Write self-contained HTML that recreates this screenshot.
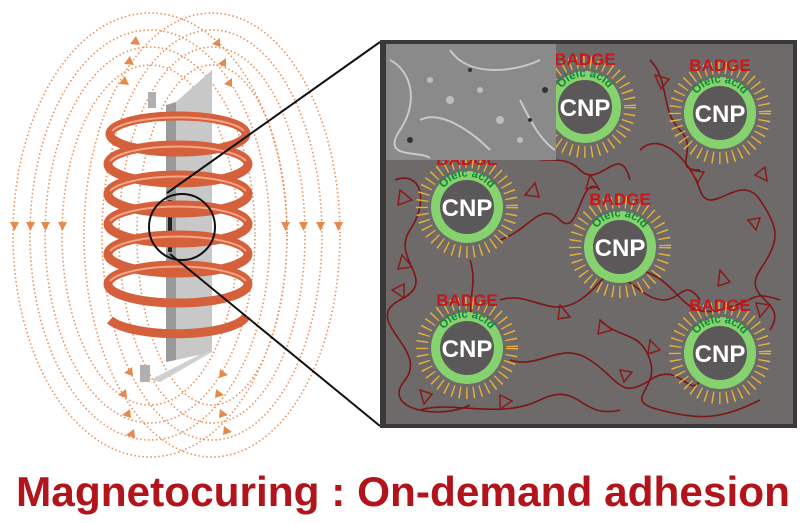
<!DOCTYPE html>
<html><head><meta charset="utf-8"><style>
html,body{margin:0;padding:0;background:#fff;}
svg{display:block;font-family:"Liberation Sans",Arial,sans-serif;}
</style></head><body>
<svg width="800" height="523" viewBox="0 0 800 523" xmlns="http://www.w3.org/2000/svg">
<defs>
<path id="arc" d="M -28.5 -2 A 28.5 28.5 0 0 1 28.5 -2" fill="none"/>
</defs>

<!-- field lines -->
<g fill="none" stroke="#e8925a" stroke-width="1.6" stroke-dasharray="1.5 2.5">
  <ellipse cx="150" cy="235" rx="137" ry="222"/>
  <ellipse cx="150" cy="235" rx="120" ry="205"/>
  <ellipse cx="150" cy="235" rx="105" ry="188"/>
  <ellipse cx="150" cy="235" rx="88" ry="170"/>
  <ellipse cx="212" cy="235" rx="128" ry="222"/>
  <ellipse cx="212" cy="235" rx="110" ry="205"/>
  <ellipse cx="212" cy="235" rx="93" ry="188"/>
  <ellipse cx="212" cy="235" rx="75" ry="170"/>
</g>
<g fill="#e58a4f">
  <path d="M10 222 h9 l-4.5 9z"/><path d="M26 222 h9 l-4.5 9z"/><path d="M41 222 h9 l-4.5 9z"/><path d="M58 222 h9 l-4.5 9z"/>
  <path d="M281 222 h9 l-4.5 9z"/><path d="M299 222 h9 l-4.5 9z"/><path d="M316 222 h9 l-4.5 9z"/><path d="M334 222 h9 l-4.5 9z"/>
  <path d="M130 44 l6 -8 l4 9z"/><path d="M124 64 l6 -8 l4 9z"/><path d="M119 84 l6 -8 l4 9z"/>
  <path d="M212 44 l8 -6 l0 9z"/><path d="M218 64 l8 -6 l0 9z"/><path d="M224 84 l8 -6 l0 9z"/>
  <path d="M118 395 l8 -6 l1 9z"/><path d="M122 415 l8 -6 l1 9z"/><path d="M126 435 l8 -6 l1 9z"/><path d="M124 373 l8 -6 l1 9z"/>
  <path d="M224 395 l-8 -6 l-1 9z"/><path d="M228 415 l-8 -6 l-1 9z"/><path d="M232 432 l-8 -6 l-1 9z"/><path d="M228 375 l-8 -6 l-1 9z"/>
</g>

<!-- iron bar -->
<path d="M166 105 L176 102 L176 360 L166 362 Z" fill="#9a9a9a"/>
<path d="M176 102 L212 70 L212 352 L176 360 Z" fill="#c8c8c8"/>
<path d="M148 92 L156 92 L156 108 L148 108 Z" fill="#b0b0b0"/>
<path d="M140 365 L150 365 L150 382 L140 382 Z" fill="#b0b0b0"/>
<path d="M150 380 L205 352 L212 352 L160 382 Z" fill="#d0d0d0"/>
<path d="M168 200 L172 200 L172 252 L168 252 Z" fill="#222"/>

<!-- coil -->
<g fill="none" stroke="#d5603c" stroke-width="9">
  <ellipse cx="178" cy="134" rx="68" ry="18"/>
  <ellipse cx="178" cy="164" rx="70" ry="19"/>
  <ellipse cx="178" cy="194" rx="70" ry="19"/>
  <ellipse cx="178" cy="224" rx="70" ry="19"/>
  <ellipse cx="178" cy="254" rx="70" ry="19"/>
  <ellipse cx="178" cy="284" rx="70" ry="19"/>
  <path d="M110 320 A 70 20 0 0 0 246 316"/>
</g>
<g fill="none" stroke="#f3a585" stroke-width="2">
  <path d="M112 131 A 68 18 0 0 1 244 131"/>
  <path d="M110 161 A 70 19 0 0 1 246 161"/>
  <path d="M110 191 A 70 19 0 0 1 246 191"/>
  <path d="M110 221 A 70 19 0 0 1 246 221"/>
  <path d="M110 251 A 70 19 0 0 1 246 251"/>
  <path d="M110 281 A 70 19 0 0 1 246 281"/>
</g>

<!-- magnifier -->
<circle cx="182" cy="227" r="33" fill="none" stroke="#111" stroke-width="2"/>
<line x1="167" y1="193" x2="380" y2="42" stroke="#111" stroke-width="2"/>
<line x1="170" y1="254" x2="380" y2="426" stroke="#111" stroke-width="2"/>

<!-- panel -->
<path d="M380 40 L797 40 L797 428 L380 428 Z" fill="#3a3838"/>
<path d="M386 44 L793 44 L793 424 L386 424 Z" fill="#6e6a6a"/>

<!-- polymer chains -->
<g fill="none" stroke="#7d1616" stroke-width="1.6">
  <path d="M395 180 C420 170 430 200 410 230 S440 280 400 300 S430 350 405 380 S440 420 470 405"/>
  <path d="M500 240 C530 230 540 200 560 220 S580 170 600 190"/>
  <path d="M520 150 C540 170 560 150 580 170 S620 140 630 180"/>
  <path d="M640 150 C660 130 690 160 700 190 S740 170 760 200 S780 240 760 270 S790 300 770 330"/>
  <path d="M500 300 C530 290 550 320 580 300 S600 260 640 290 S680 270 700 300"/>
  <path d="M470 260 C480 290 460 310 480 330"/>
  <path d="M510 360 C540 370 560 340 590 360 S620 400 650 380 S690 400 700 380"/>
  <path d="M600 320 C620 340 640 330 650 360 S620 400 660 410 S720 420 760 400"/>
  <path d="M640 270 C680 280 680 320 720 310 S750 290 780 300"/>
  <path d="M420 410 C450 400 500 420 540 400 S580 420 620 410"/>
  <path d="M650 60 C670 80 660 110 680 130 S670 170 700 170"/>
</g>
<g fill="none" stroke="#8b1a1a" stroke-width="1.5">
  <path d="M400 190 l12 10 l-14 5z"/><path d="M402 255 l10 12 l-14 2z"/><path d="M392 290 l12 -6 l0 14z"/>
  <path d="M525 195 l10 -12 l4 14z"/><path d="M590 175 l8 12 l-12 2z"/><path d="M560 305 l10 12 l-12 2z"/>
  <path d="M650 340 l10 10 l-12 4z"/><path d="M690 170 l14 2 l-6 10z"/><path d="M755 175 l10 -8 l2 14z"/>
  <path d="M720 270 l10 12 l-12 4z"/><path d="M748 220 l12 -2 l-4 12z"/><path d="M420 390 l12 4 l-8 10z"/>
  <path d="M600 320 l12 10 l-14 4z"/><path d="M620 370 l12 2 l-8 10z"/><path d="M500 395 l12 6 l-12 8z"/>
  <path d="M655 75 l14 4 l-8 10z"/><path d="M770 305 l-10 12 l-4 -14z"/>
</g>

<!-- CNPs -->
<g transform="translate(720,113)">
  <circle r="45" fill="none" stroke="#e8b03a" stroke-width="12" stroke-dasharray="1.4 5.6"/>
  <circle r="36" fill="#86d26e"/><circle r="27" fill="#5a5858"/>
  <text y="9" text-anchor="middle" font-size="24" font-weight="bold" fill="#fff">CNP</text>
  <text font-size="11.5" font-weight="bold" fill="#12893a"><textPath href="#arc" startOffset="50%" text-anchor="middle">Oleic acid</textPath></text>
  <text y="-42" text-anchor="middle" font-size="17" font-weight="bold" fill="#c8161d">BADGE</text>
</g>
<g transform="translate(467,207)">
  <circle r="45" fill="none" stroke="#e8b03a" stroke-width="12" stroke-dasharray="1.4 5.6"/>
  <circle r="36" fill="#86d26e"/><circle r="27" fill="#5a5858"/>
  <text y="9" text-anchor="middle" font-size="24" font-weight="bold" fill="#fff">CNP</text>
  <text font-size="11.5" font-weight="bold" fill="#12893a"><textPath href="#arc" startOffset="50%" text-anchor="middle">Oleic acid</textPath></text>
  <text y="-42" text-anchor="middle" font-size="17" font-weight="bold" fill="#c8161d">BADGE</text>
</g>
<g transform="translate(620,247)">
  <circle r="45" fill="none" stroke="#e8b03a" stroke-width="12" stroke-dasharray="1.4 5.6"/>
  <circle r="36" fill="#86d26e"/><circle r="27" fill="#5a5858"/>
  <text y="9" text-anchor="middle" font-size="24" font-weight="bold" fill="#fff">CNP</text>
  <text font-size="11.5" font-weight="bold" fill="#12893a"><textPath href="#arc" startOffset="50%" text-anchor="middle">Oleic acid</textPath></text>
  <text y="-42" text-anchor="middle" font-size="17" font-weight="bold" fill="#c8161d">BADGE</text>
</g>
<g transform="translate(467,348)">
  <circle r="45" fill="none" stroke="#e8b03a" stroke-width="12" stroke-dasharray="1.4 5.6"/>
  <circle r="36" fill="#86d26e"/><circle r="27" fill="#5a5858"/>
  <text y="9" text-anchor="middle" font-size="24" font-weight="bold" fill="#fff">CNP</text>
  <text font-size="11.5" font-weight="bold" fill="#12893a"><textPath href="#arc" startOffset="50%" text-anchor="middle">Oleic acid</textPath></text>
  <text y="-42" text-anchor="middle" font-size="17" font-weight="bold" fill="#c8161d">BADGE</text>
</g>
<g transform="translate(720,353)">
  <circle r="45" fill="none" stroke="#e8b03a" stroke-width="12" stroke-dasharray="1.4 5.6"/>
  <circle r="36" fill="#86d26e"/><circle r="27" fill="#5a5858"/>
  <text y="9" text-anchor="middle" font-size="24" font-weight="bold" fill="#fff">CNP</text>
  <text font-size="11.5" font-weight="bold" fill="#12893a"><textPath href="#arc" startOffset="50%" text-anchor="middle">Oleic acid</textPath></text>
  <text y="-42" text-anchor="middle" font-size="17" font-weight="bold" fill="#c8161d">BADGE</text>
</g>
<g transform="translate(585,107)">
  <circle r="45" fill="none" stroke="#e8b03a" stroke-width="12" stroke-dasharray="1.4 5.6"/>
  <circle r="36" fill="#86d26e"/><circle r="27" fill="#5a5858"/>
  <text y="9" text-anchor="middle" font-size="24" font-weight="bold" fill="#fff">CNP</text>
  <text font-size="11.5" font-weight="bold" fill="#12893a"><textPath href="#arc" startOffset="50%" text-anchor="middle">Oleic acid</textPath></text>
  <text y="-42" text-anchor="middle" font-size="17" font-weight="bold" fill="#c8161d">BADGE</text>
</g>

<!-- SEM inset -->
<rect x="386" y="44" width="170" height="116" fill="#8a8a8a"/>
<g fill="none" stroke="#d8d8d8" stroke-width="2" opacity="0.8">
  <path d="M390 60 C410 70 420 100 400 130 S420 150 430 158"/>
  <path d="M450 50 C470 80 520 70 540 60"/>
  <path d="M520 100 C530 120 540 140 555 150"/>
  <path d="M420 120 C440 110 470 130 490 150"/>
</g>
<g fill="#bdbdbd"><circle cx="450" cy="100" r="4"/><circle cx="480" cy="90" r="3"/><circle cx="500" cy="120" r="4"/><circle cx="430" cy="80" r="3"/><circle cx="520" cy="140" r="3"/></g>
<g fill="#333"><circle cx="470" cy="70" r="2"/><circle cx="545" cy="90" r="3"/><circle cx="410" cy="140" r="3"/><circle cx="530" cy="120" r="2"/></g>

<!-- title -->
<text x="16" y="506" font-size="42" font-weight="bold" fill="#b2141c" textLength="774" lengthAdjust="spacingAndGlyphs">Magnetocuring : On-demand adhesion</text>
</svg>
</body></html>
